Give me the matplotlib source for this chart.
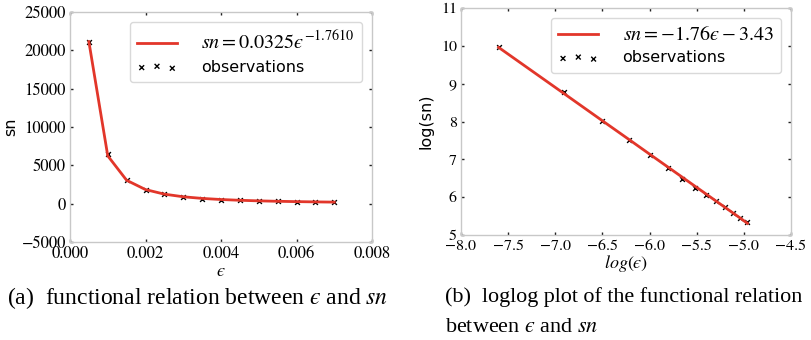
import numpy as np
import matplotlib
matplotlib.use('Agg')
import matplotlib.pyplot as plt
from matplotlib.ticker import FuncFormatter

plt.rcParams['mathtext.fontset'] = 'stix'
plt.rcParams['font.family'] = 'STIXGeneral'

# data
eps = [0.0005, 0.001, 0.0015, 0.002, 0.0025, 0.003, 0.0035,
       0.004, 0.0045, 0.005, 0.0055, 0.006, 0.0065, 0.007]
sn_obs = [21100, 6500, 3030, 1830, 1220, 870, 650,
          520, 430, 360, 310, 265, 233, 212]
sn_fit = [21130, 6240, 3050, 1840, 1240, 900, 686,
          542, 441, 366, 310, 266, 231, 202]

fit_label_a = '$sn = 0.0325\u03f5^{-1.7610}$'
fit_label_b = '$sn = -1.76\u03f5 - 3.43$'

log_eps = np.log(eps)
log_obs = np.log(sn_obs)
log_fit = np.log(sn_fit)

red = '#e2362a'
sans = 'DejaVu Sans'
W, H = 811, 340
fig = plt.figure(figsize=(W / 100, H / 100), dpi=100)


def fmt(nd):
    return FuncFormatter(lambda v, p: ('%.*f' % (nd, v)).replace('-', '\u2212'))


def style_axes(ax, size):
    for s in ax.spines.values():
        s.set_color('#c8c8c8')
        s.set_linewidth(1.0)
    ax.tick_params(direction='in', length=2.5, width=1, color='#222222',
                   top=True, right=True, labelsize=size, pad=3)


def px_axes(x0, y0, x1, y1):
    return fig.add_axes([x0 / W, 1 - y1 / H, (x1 - x0) / W, (y1 - y0) / H])


def add_legend(ax):
    h, l = ax.get_legend_handles_labels()
    leg = ax.legend(h[::-1], l[::-1], loc='upper right', fontsize=11,
                    borderaxespad=0.65, handlelength=2.6, handletextpad=1.6,
                    scatterpoints=3, labelspacing=0.45, borderpad=0.5)
    leg.get_frame().set_edgecolor('#d0d0d0')
    t0, t1 = leg.get_texts()
    t0.set_fontsize(14.5)
    t1.set_fontfamily(sans)
    t1.set_fontsize(11.5)


# (a) direct relation
ax1 = px_axes(70, 12, 372, 242)
ax1.scatter(eps, sn_obs, marker='x', c='k', s=12, linewidths=1, label='observations')
ax1.plot(eps, sn_fit, color=red, lw=2, label=fit_label_a)
ax1.set_xlim(0, 0.008)
ax1.set_ylim(-5000, 25000)
ax1.set_xticks(np.arange(0, 0.0081, 0.002))
ax1.xaxis.set_major_formatter(fmt(3))
ax1.set_yticks(np.arange(-5000, 25001, 5000))
ax1.yaxis.set_major_formatter(fmt(0))
style_axes(ax1, 12)
ax1.set_xlabel('$\u03f5$', fontsize=13, labelpad=1)
ax1.set_ylabel('sn', fontsize=11.5, labelpad=0, family=sans)
ax1.yaxis.set_label_coords(-0.17, 0.5)
add_legend(ax1)

# (b) loglog
ax2 = px_axes(461, 8, 791, 235)
ax2.scatter(log_eps, log_obs, marker='x', c='k', s=12, linewidths=1, label='observations')
ax2.plot(log_eps, log_fit, color=red, lw=2, label=fit_label_b)
ax2.set_xlim(-8, -4.5)
ax2.set_ylim(5, 11)
ax2.set_xticks(np.arange(-8, -4.49, 0.5))
ax2.xaxis.set_major_formatter(fmt(1))
ax2.set_yticks(range(5, 12))
style_axes(ax2, 11.5)
ax2.set_xlabel('$log(\u03f5)$', fontsize=13, labelpad=0)
ax2.set_ylabel('log(sn)', fontsize=11.5, labelpad=5, family=sans)
add_legend(ax2)

# captions
cap = dict(family='Liberation Serif', va='center', ha='left')
fig.text(7 / W, 1 - 298 / H, '(a)  functional relation between $\u03f5$ and $sn$',
         fontsize=17, **cap)
fig.text(445 / W, 1 - 297 / H, '(b)  loglog plot of the functional relation',
         fontsize=15.9, **cap)
fig.text(445 / W, 1 - 327 / H, 'between $\u03f5$ and $sn$', fontsize=15.9, **cap)

fig.savefig('out.png', dpi=100)
